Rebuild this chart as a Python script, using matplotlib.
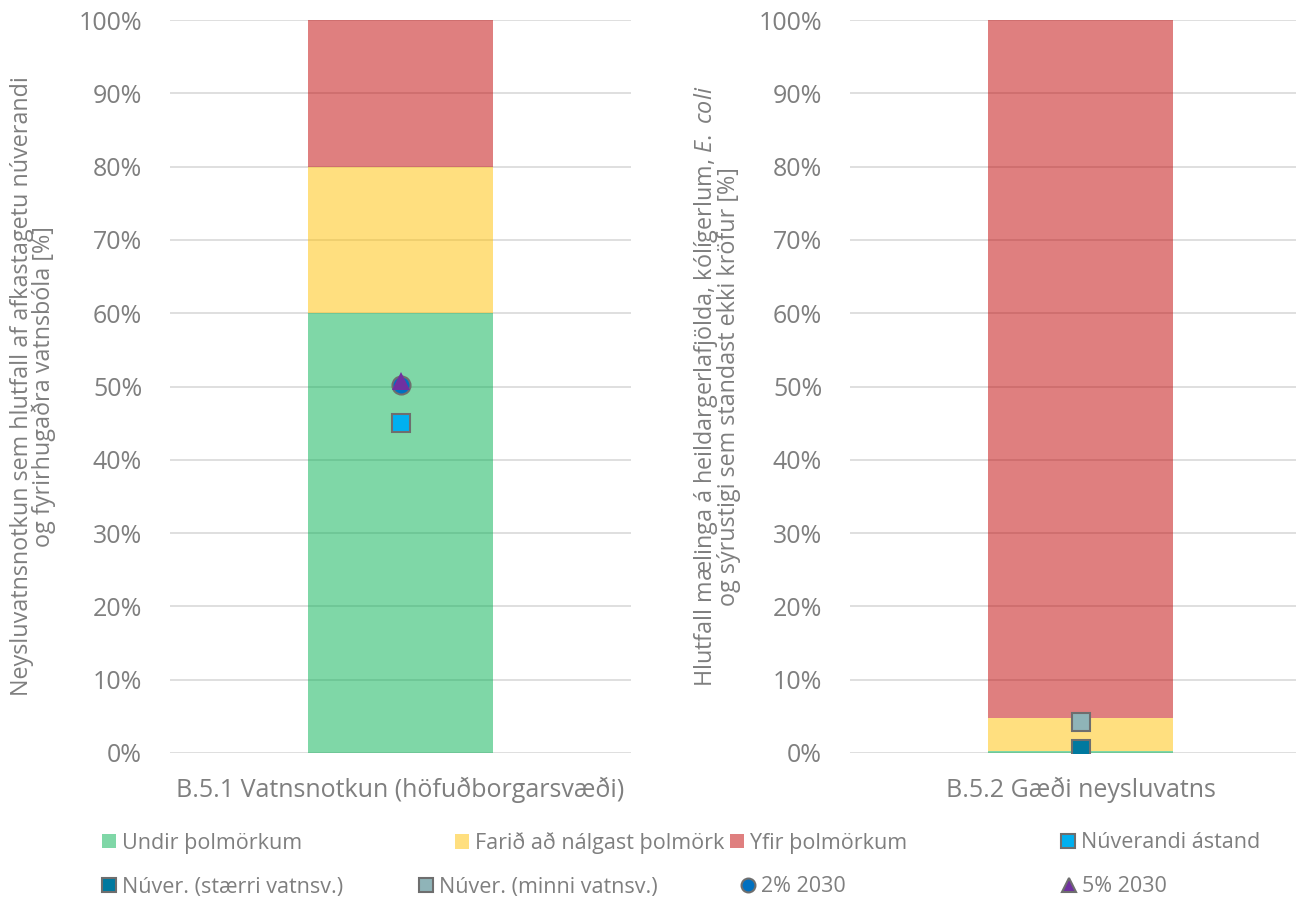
import matplotlib
matplotlib.use("Agg")
import matplotlib.pyplot as plt
from matplotlib.patches import Patch
from matplotlib.lines import Line2D
from matplotlib.ticker import PercentFormatter

# data (fractions in %)
cat_left = ["B.5.1 Vatnsnotkun (höfuðborgarsvæði)"]
cat_right = ["B.5.2 Gæði neysluvatns"]
band_names = ["Undir þolmörkum", "Farið að nálgast þolmörk", "Yfir þolmörkum"]
bands_left = [60, 20, 20]
bands_right = [0.3, 4.5, 95.2]

nuverandi_left = [45.0]
pct2_2030_left = [50.2]
pct5_2030_left = [50.8]
staerri_right = [0.5]
minni_right = [4.2]

band_colors = ["#00b050", "#ffc000", "#c00000"]
gray = "#7f7f7f"
edge = "#6e6e6e"
grid_c = "#d9d9d9"

plt.rcParams["font.family"] = ["Open Sans", "DejaVu Sans"]
plt.rcParams["mathtext.fontset"] = "custom"
plt.rcParams["mathtext.it"] = "Open Sans:italic"
plt.rcParams["mathtext.rm"] = "Open Sans"

fig = plt.figure(figsize=(12.96, 9), dpi=100)
axL = fig.add_axes([170/1296, 1 - 753/900, 461/1296, 733/900])
axR = fig.add_axes([850/1296, 1 - 753/900, 461/1296, 733/900])


def stacked(ax, cats, bands):
    bottom = 0
    for val, col in zip(bands, band_colors):
        ax.bar(cats, [val], bottom=bottom, width=0.4, color=col, alpha=0.5,
               linewidth=0, zorder=1)
        bottom += val
    ax.set_xlim(-0.5, 0.5)
    ax.set_ylim(0, 100)
    ax.set_yticks(range(0, 101, 10))
    ax.yaxis.set_major_formatter(PercentFormatter(decimals=0))
    ax.grid(axis="y", color=grid_c, linewidth=1.2, zorder=0)
    ax.set_axisbelow(True)
    for s in ax.spines.values():
        s.set_visible(False)
    ax.tick_params(axis="both", length=0, labelsize=18, colors=gray)
    ax.tick_params(axis="y", pad=20)
    ax.tick_params(axis="x", pad=17)


stacked(axL, cat_left, bands_left)
stacked(axR, cat_right, bands_right)

mk = dict(markeredgecolor=edge, markeredgewidth=1.5, linestyle="none", zorder=5)
axL.plot(cat_left, nuverandi_left, marker="s", markersize=13, markerfacecolor="#00b0f0", **mk)
axL.plot(cat_left, pct2_2030_left, marker="o", markersize=13, markerfacecolor="#0070c0", **mk)
axL.plot(cat_left, pct5_2030_left, marker="^", markersize=13, markerfacecolor="#7030a0",
         markeredgecolor="#7030a0", markeredgewidth=0, linestyle="none", zorder=6)
axR.plot(cat_right, staerri_right, marker="s", markersize=13, markerfacecolor="#00799f", **mk)
axR.plot(cat_right, minni_right, marker="s", markersize=13, markerfacecolor="#8fb4b8", **mk)

axL.set_ylabel("Neysluvatnsnotkun sem hlutfall af afkastagetu núverandi\nog fyrirhugaðra vatnsbóla [%]",
               fontsize=16.8, color=gray, labelpad=0, linespacing=0.85)
axL.yaxis.set_label_coords(-114/461, 0.5)
axR.set_ylabel("Hlutfall mælinga á heildargerlafjölda, kólígerlum, $\\it{E.\\ coli}$\n"
               "og sýrustigi sem standast ekki kröfur [%]",
               fontsize=16.8, color=gray, labelpad=0, linespacing=0.85)
axR.yaxis.set_label_coords(-109/461, 0.5)

entries = [
    (Patch(facecolor=band_colors[0], alpha=0.5), band_names[0], 102, 843),
    (Patch(facecolor=band_colors[1], alpha=0.5), band_names[1], 455, 843),
    (Patch(facecolor=band_colors[2], alpha=0.5), band_names[2], 730, 843),
    (Line2D([], [], marker="s", markersize=10, markerfacecolor="#00b0f0", **mk), "Núverandi ástand", 1061, 843),
    (Line2D([], [], marker="s", markersize=10, markerfacecolor="#00799f", **mk), "Núver. (stærri vatnsv.)", 102, 887),
    (Line2D([], [], marker="s", markersize=10, markerfacecolor="#8fb4b8", **mk), "Núver. (minni vatnsv.)", 419, 887),
    (Line2D([], [], marker="o", markersize=10, markerfacecolor="#0070c0", **mk), "2% 2030", 741, 887),
    (Line2D([], [], marker="^", markersize=10, markerfacecolor="#7030a0", **mk), "5% 2030", 1062, 887),
]
for h, lab, px, py in entries:
    leg = fig.legend([h], [lab], loc="center left", bbox_to_anchor=(px/1296, 1 - py/900),
                     frameon=False, borderpad=0, borderaxespad=0,
                     prop={"size": 15.5},
                     handlelength=0.65, handleheight=0.65, handletextpad=0.3)
    for t in leg.get_texts():
        t.set_color(gray)

fig.savefig("out.png", dpi=100)
